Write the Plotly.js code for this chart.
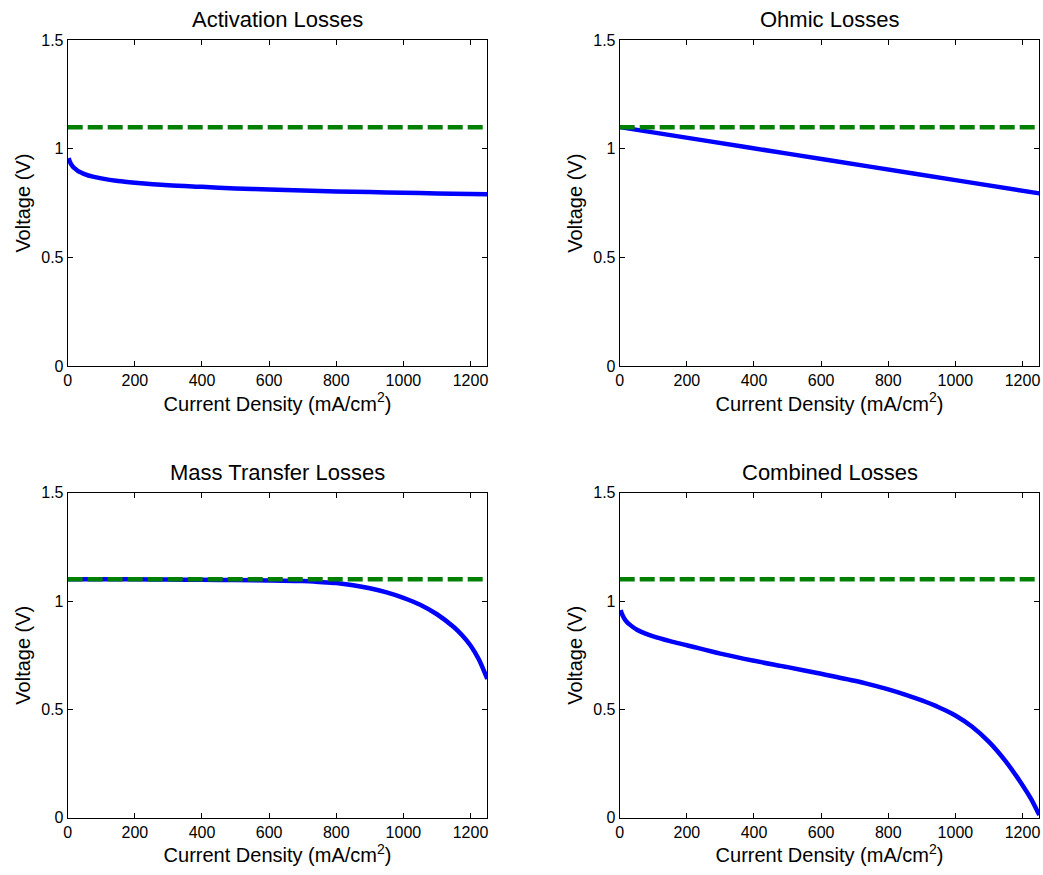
<!DOCTYPE html>
<html>
<head>
<meta charset="utf-8">
<script src="https://cdn.plot.ly/plotly-3.0.1.min.js"></script>
<style>html,body{margin:0;padding:0;background:#fff;}#chart{width:1043px;height:875px;}</style>
</head>
<body>
<div id="chart"></div>
<script>
// ---- data ----
const openCircuitVoltage = 1.1;
const refX = [0, 1250];

const activationX = [3, 6, 10, 15, 20, 30, 40, 50, 75, 100, 150, 200, 300, 400, 500, 600, 700, 800, 900, 1000, 1100, 1200, 1250];
const activationV = [0.958, 0.943, 0.93, 0.919, 0.911, 0.899, 0.891, 0.884, 0.872, 0.864, 0.852, 0.844, 0.832, 0.825, 0.818, 0.813, 0.808, 0.804, 0.801, 0.798, 0.795, 0.792, 0.791];

const ohmicX = [0, 250, 500, 750, 1000, 1250];
const ohmicV = [1.1, 1.039, 0.978, 0.917, 0.856, 0.795];

const massX = [0, 100, 200, 300, 400, 500, 600, 700, 750, 800, 850, 900, 950, 1000, 1050, 1100, 1150, 1175, 1200, 1225, 1250];
const massV = [1.1, 1.1, 1.1, 1.099, 1.098, 1.097, 1.095, 1.092, 1.088, 1.083, 1.073, 1.059, 1.04, 1.015, 0.983, 0.939, 0.88, 0.842, 0.795, 0.73, 0.64];

const combinedX = [3, 6, 10, 15, 20, 30, 40, 50, 75, 100, 150, 200, 300, 400, 500, 600, 700, 750, 800, 850, 900, 950, 1000, 1050, 1100, 1150, 1200, 1225, 1250];
const combinedV = [0.958, 0.943, 0.93, 0.916, 0.906, 0.891, 0.879, 0.869, 0.851, 0.837, 0.815, 0.796, 0.757, 0.724, 0.695, 0.664, 0.632, 0.613, 0.592, 0.568, 0.541, 0.51, 0.472, 0.42, 0.35, 0.26, 0.15, 0.088, 0.012];

const panelTitles = ["Activation Losses", "Ohmic Losses", "Mass Transfer Losses", "Combined Losses"];
const xTicks = [0, 200, 400, 600, 800, 1000, 1200];
const yTicks = [0, 0.5, 1, 1.5];
const yTickText = ["0", "0.5", "1", "1.5"];
const xLabel = "Current Density (mA/cm<sup>2</sup>)";
const yLabel = "Voltage (V)";

// ---- build ----
const series = [[activationX, activationV], [ohmicX, ohmicV], [massX, massV], [combinedX, combinedV]];
const FONT = "Liberation Sans, Arial, Helvetica, sans-serif";
const traces = [];
series.forEach((s, k) => {
  const ax = k === 0 ? "" : String(k + 1);
  traces.push({x: s[0], y: s[1], type: "scatter", mode: "lines", xaxis: "x" + ax, yaxis: "y" + ax,
    line: {color: "#0000ff", width: 4.5, shape: "spline", smoothing: 0.8}, hoverinfo: "x+y"});
  traces.push({x: refX, y: [openCircuitVoltage, openCircuitVoltage], type: "scatter", mode: "lines",
    xaxis: "x" + ax, yaxis: "y" + ax, line: {color: "#008000", width: 4.5, dash: "15px,5px"}, hoverinfo: "y"});
});

const W = 1043, H = 875;
const xDomains = [[67.7 / W, 487.3 / W], [619.7 / W, 1039.3 / W]];
const yDomains = [[1 - 366 / H, 1 - 40.3 / H], [1 - 817.7 / H, 1 - 492.7 / H]];

const layout = {
  width: W, height: H,
  margin: {l: 0, r: 0, t: 0, b: 0},
  paper_bgcolor: "#ffffff", plot_bgcolor: "#ffffff",
  showlegend: false,
  font: {family: FONT, color: "#000000"},
  annotations: []
};
for (let k = 0; k < 4; k++) {
  const ax = k === 0 ? "" : String(k + 1);
  const col = k % 2, row = Math.floor(k / 2);
  layout["xaxis" + ax] = {
    domain: xDomains[col], anchor: "y" + ax, range: [0, 1250],
    tickvals: xTicks, ticks: "inside", ticklen: 5, tickwidth: 1, tickcolor: "#000",
    showline: true, linecolor: "#000", linewidth: 1, mirror: "ticks",
    showgrid: false, zeroline: false, fixedrange: true,
    tickfont: {size: 16, family: FONT, color: "#000"},
    title: {text: xLabel, font: {size: 20, family: FONT, color: "#000"}, standoff: 6},
    automargin: false
  };
  layout["yaxis" + ax] = {
    domain: yDomains[row], anchor: "x" + ax, range: [0, 1.5],
    tickvals: yTicks, ticktext: yTickText, ticks: "inside", ticklen: 5, tickwidth: 1, tickcolor: "#000",
    showline: true, linecolor: "#000", linewidth: 1, mirror: "ticks",
    showgrid: false, zeroline: false, fixedrange: true,
    tickfont: {size: 16, family: FONT, color: "#000"},
    title: {text: yLabel, font: {size: 20, family: FONT, color: "#000"}, standoff: 5},
    automargin: false
  };
  const xc = (xDomains[col][0] + xDomains[col][1]) / 2;
  layout.annotations.push({
    text: panelTitles[k], xref: "paper", yref: "paper", x: xc,
    y: yDomains[row][1], yanchor: "bottom", xanchor: "center", yshift: 6,
    showarrow: false, font: {size: 22, family: FONT, color: "#000"}
  });
}

Plotly.newPlot("chart", traces, layout, {displayModeBar: false});
</script>
</body>
</html>
